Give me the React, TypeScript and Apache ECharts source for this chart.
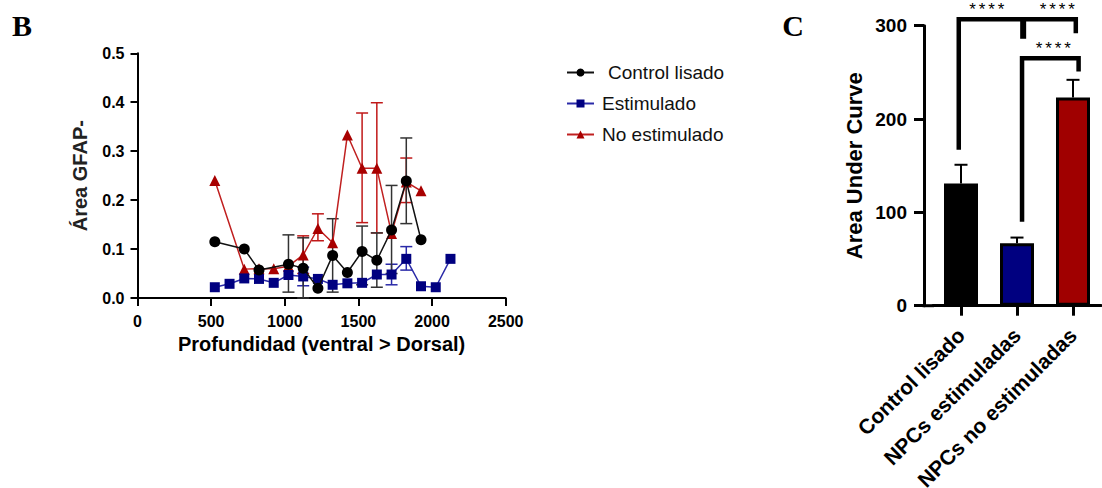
import React, { useEffect, useRef } from "react";
import * as echarts from "echarts";

// ---------- Panel B data ----------
const depthControl = [525, 725, 825, 1025, 1125, 1225, 1325, 1425, 1525, 1625, 1725, 1825, 1925];
const valControl = [0.115, 0.1, 0.057, 0.069, 0.061, 0.02, 0.087, 0.052, 0.095, 0.077, 0.139, 0.239, 0.119];

const depthEstim = [525, 625, 725, 825, 925, 1025, 1125, 1225, 1325, 1425, 1525, 1625, 1725, 1825, 1925, 2025, 2125];
const valEstim = [0.022, 0.029, 0.04, 0.039, 0.031, 0.047, 0.044, 0.039, 0.027, 0.03, 0.031, 0.048, 0.048, 0.08, 0.024, 0.022, 0.08];

const depthNoEstim = [525, 725, 825, 925, 1025, 1125, 1225, 1325, 1425, 1525, 1625, 1725, 1825, 1925];
const valNoEstim = [0.24, 0.059, 0.06, 0.06, 0.065, 0.088, 0.142, 0.113, 0.333, 0.265, 0.265, 0.132, 0.237, 0.219];

// error bars: [depth, low, high]
const errControl = [
  [1025, 0.012, 0.129],
  [1125, 0.0, 0.123],
  [1325, 0.012, 0.162],
  [1525, 0.027, 0.147],
  [1625, 0.022, 0.133],
  [1725, 0.05, 0.23],
  [1825, 0.152, 0.327],
];
const errEstim = [
  [1125, 0.025, 0.063],
  [1725, 0.027, 0.069],
  [1825, 0.057, 0.105],
];
const errNoEstim = [
  [1125, 0.05, 0.127],
  [1225, 0.117, 0.172],
  [1525, 0.154, 0.378],
  [1625, 0.133, 0.399],
  [1825, 0.195, 0.286],
];

const nameControl = "Control lisado";
const nameEstim = "Estimulado";
const nameNoEstim = "No estimulado";

// ---------- Panel C data ----------
const groups = ["Control lisado", "NPCs estimuladas", "NPCs no estimuladas"];
const auc = [131, 67, 223];
const aucErr = [20, 6, 19];
const barColors = ["#000000", "#000080", "#a00000"];

// significance brackets: [leftPos, rightPos, top, leftBottom, rightBottom] (positions in category units)
const brackets = [
  [-0.04, 2.05, 307, 167, 292],
  [1.09, 2.1, 265, 90, 251],
];
// stub: [pos, top, bottom]
const stubs = [[1.11, 307, 286]];
// stars: [pos, value (top of text), text]
const stars: [number, number, string][] = [
  [0.46, 327, "****"],
  [1.72, 327, "****"],
  [1.65, 285, "****"],
];

const FONT = "'Liberation Sans', Arial, sans-serif";

export default function App() {
  const ref = useRef<HTMLDivElement>(null);

  useEffect(() => {
    if (!ref.current) return;
    const chart = echarts.init(ref.current, undefined, { renderer: "svg" });

    const errRender = (color: string) => (params: any, api: any) => {
      const x = api.value(0);
      const lo = api.value(1);
      const hi = api.value(2);
      const pLo = api.coord([x, lo]);
      const pHi = api.coord([x, hi]);
      const w = 6;
      const st = { stroke: color, lineWidth: 1.5 };
      return {
        type: "group",
        children: [
          { type: "line", shape: { x1: pLo[0], y1: pLo[1], x2: pHi[0], y2: pHi[1] }, style: st },
          { type: "line", shape: { x1: pLo[0] - w, y1: pLo[1], x2: pLo[0] + w, y2: pLo[1] }, style: st },
          { type: "line", shape: { x1: pHi[0] - w, y1: pHi[1], x2: pHi[0] + w, y2: pHi[1] }, style: st },
        ],
      };
    };

    const catPx = (api: any, f: number) => {
      const bw = api.size([1, 0])[0];
      const base = Math.max(0, Math.min(2, Math.round(f)));
      return api.coord([base, 0])[0] + (f - base) * bw;
    };
    const yPx = (api: any, v: number) => api.coord([0, v])[1];

    const bracketRender = (params: any, api: any) => {
      const children: any[] = [];
      brackets.forEach((b) => {
        const xl = catPx(api, b[0]);
        const xr = catPx(api, b[1]);
        children.push({
          type: "polyline",
          shape: {
            points: [
              [xl, yPx(api, b[3])],
              [xl, yPx(api, b[2])],
              [xr, yPx(api, b[2])],
              [xr, yPx(api, b[4])],
            ],
          },
          style: { stroke: "#000", lineWidth: 4.5, fill: null, lineJoin: "miter" },
        });
      });
      stubs.forEach((s) => {
        const x = catPx(api, s[0]);
        children.push({
          type: "line",
          shape: { x1: x, y1: yPx(api, s[1]), x2: x, y2: yPx(api, s[2]) },
          style: { stroke: "#000", lineWidth: 6 },
        });
      });
      stars.forEach((s) => {
        const cx = catPx(api, s[0]);
        const ty = yPx(api, s[1]);
        const chars = s[2].split("");
        const pitch = 9.5;
        chars.forEach((ch, k) => {
          children.push({
            type: "text",
            x: cx + (k - (chars.length - 1) / 2) * pitch,
            y: ty,
            style: {
              text: ch,
              fontSize: 17,
              fontFamily: FONT,
              fill: "#000",
              align: "center",
              verticalAlign: "top",
            },
          });
        });
      });
      return { type: "group", children };
    };

    const barErrRender = (params: any, api: any) => {
      const x = api.value(0);
      const m = api.value(1);
      const t = api.value(2);
      const p1 = api.coord([x, m]);
      const p2 = api.coord([x, t]);
      const w = 6.5;
      const st = { stroke: "#000", lineWidth: 2 };
      return {
        type: "group",
        children: [
          { type: "line", shape: { x1: p1[0], y1: p1[1], x2: p2[0], y2: p2[1] }, style: st },
          { type: "line", shape: { x1: p2[0] - w, y1: p2[1], x2: p2[0] + w, y2: p2[1] }, style: st },
        ],
      };
    };

    chart.setOption({
      animation: false,
      backgroundColor: "#ffffff",
      textStyle: { fontFamily: FONT },
      grid: [
        { left: 137.5, top: 53.3, width: 368.2, height: 244.7, containLabel: false, outerBoundsMode: "none" },
        { left: 933, top: 25.7, width: 168, height: 280, containLabel: false, outerBoundsMode: "none" },
      ],
      legend: {
        orient: "vertical",
        left: 561,
        top: 58,
        itemWidth: 27,
        itemHeight: 10,
        itemGap: 12,
        textStyle: { fontSize: 19, fontFamily: FONT, color: "#111", lineHeight: 19, padding: [0, 0, 0, 3] },
        data: [
          { name: nameControl, textStyle: { padding: [0, 0, 0, 9] } },
          { name: nameEstim },
          { name: nameNoEstim },
        ],
      },
      xAxis: [
        {
          type: "value",
          gridIndex: 0,
          min: 0,
          max: 2500,
          interval: 500,
          splitLine: { show: false },
          axisLine: { show: true, lineStyle: { color: "#000", width: 2 } },
          axisTick: { show: true, length: 8, lineStyle: { color: "#000", width: 2 } },
          axisLabel: {
            fontSize: 16,
            fontWeight: "bold",
            color: "#000",
            margin: 15,
            fontFamily: FONT,
            formatter: (v: number) => String(v),
          },
          name: "Profundidad (ventral > Dorsal)",
          nameLocation: "middle",
          nameGap: 35,
          nameTextStyle: { fontSize: 20, fontWeight: "bold", color: "#000", fontFamily: FONT },
        },
        {
          type: "category",
          gridIndex: 1,
          data: groups,
          axisLine: { show: true, lineStyle: { color: "#000", width: 3 } },
          axisTick: { show: true, alignWithLabel: true, length: 10, lineStyle: { color: "#000", width: 3 } },
          axisLabel: {
            interval: 0,
            rotate: 45,
            fontSize: 21,
            fontWeight: "bold",
            color: "#000",
            margin: 26,
            fontFamily: FONT,
          },
        },
      ],
      yAxis: [
        {
          type: "value",
          gridIndex: 0,
          min: 0,
          max: 0.5,
          interval: 0.1,
          splitLine: { show: false },
          axisLine: { show: true, lineStyle: { color: "#000", width: 2 } },
          axisTick: { show: true, length: 7, lineStyle: { color: "#000", width: 2 } },
          axisLabel: {
            fontSize: 16,
            fontWeight: "bold",
            color: "#000",
            margin: 13,
            fontFamily: FONT,
            formatter: (v: number) => v.toFixed(1),
          },
          name: "Área GFAP-",
          nameLocation: "middle",
          nameGap: 48,
          nameTextStyle: { fontSize: 20, fontWeight: "bold", color: "#222", fontFamily: FONT },
        },
        {
          type: "value",
          gridIndex: 1,
          min: 0,
          max: 300,
          interval: 100,
          offset: 9,
          splitLine: { show: false },
          axisLine: { show: true, lineStyle: { color: "#000", width: 3 } },
          axisTick: { show: true, length: 10, lineStyle: { color: "#000", width: 3 } },
          axisLabel: { fontSize: 19, fontWeight: "bold", color: "#000", margin: 17, fontFamily: FONT },
          name: "Area Under Curve",
          nameLocation: "middle",
          nameGap: 59,
          nameTextStyle: { fontSize: 22, fontWeight: "bold", color: "#000", fontFamily: FONT },
        },
      ],
      series: [
        {
          type: "custom",
          xAxisIndex: 0,
          yAxisIndex: 0,
          data: errNoEstim,
          encode: { x: 0, y: [1, 2] },
          renderItem: errRender("#c01818"),
          z: 1,
          silent: true,
        },
        {
          type: "custom",
          xAxisIndex: 0,
          yAxisIndex: 0,
          data: errEstim,
          encode: { x: 0, y: [1, 2] },
          renderItem: errRender("#2a2aa8"),
          z: 1,
          silent: true,
        },
        {
          type: "custom",
          xAxisIndex: 0,
          yAxisIndex: 0,
          data: errControl,
          encode: { x: 0, y: [1, 2] },
          renderItem: errRender("#333333"),
          z: 1,
          silent: true,
        },
        {
          name: nameNoEstim,
          type: "line",
          xAxisIndex: 0,
          yAxisIndex: 0,
          data: depthNoEstim.map((d, i) => [d, valNoEstim[i]]),
          symbol: "triangle",
          symbolSize: 11,
          itemStyle: { color: "#a80000" },
          lineStyle: { color: "#c02020", width: 1.5 },
          z: 2,
        },
        {
          name: nameEstim,
          type: "line",
          xAxisIndex: 0,
          yAxisIndex: 0,
          data: depthEstim.map((d, i) => [d, valEstim[i]]),
          symbol: "rect",
          symbolSize: 10,
          itemStyle: { color: "#000080" },
          lineStyle: { color: "#2a2aa8", width: 1.5 },
          z: 3,
        },
        {
          name: nameControl,
          type: "line",
          xAxisIndex: 0,
          yAxisIndex: 0,
          data: depthControl.map((d, i) => [d, valControl[i]]),
          symbol: "circle",
          symbolSize: 11,
          itemStyle: { color: "#000000" },
          lineStyle: { color: "#111111", width: 1.5 },
          z: 4,
        },
        {
          type: "bar",
          xAxisIndex: 1,
          yAxisIndex: 1,
          barWidth: 34,
          data: auc.map((v, i) => ({
            value: v,
            itemStyle: { color: barColors[i], borderColor: "#000", borderWidth: 3 },
          })),
          z: 2,
        },
        {
          type: "custom",
          xAxisIndex: 1,
          yAxisIndex: 1,
          data: groups.map((g, i) => [i, auc[i], auc[i] + aucErr[i]]),
          encode: { x: 0, y: [1, 2] },
          renderItem: barErrRender,
          z: 3,
          silent: true,
        },
        {
          type: "custom",
          xAxisIndex: 1,
          yAxisIndex: 1,
          data: [[0, 0]],
          renderItem: bracketRender,
          clip: false,
          z: 4,
          silent: true,
        },
      ],
      graphic: [
        {
          type: "text",
          x: 22,
          y: 25,
          style: {
            text: "B",
            fontSize: 30,
            fontWeight: "bold",
            fontFamily: "'Liberation Serif', 'Times New Roman', serif",
            fill: "#000",
            align: "center",
            verticalAlign: "middle",
          },
        },
        {
          type: "text",
          x: 793,
          y: 25,
          style: {
            text: "C",
            fontSize: 30,
            fontWeight: "bold",
            fontFamily: "'Liberation Serif', 'Times New Roman', serif",
            fill: "#000",
            align: "center",
            verticalAlign: "middle",
          },
        },
        {
          type: "line",
          shape: { x1: 922.5, y1: 305.7, x2: 934, y2: 305.7 },
          style: { stroke: "#000", lineWidth: 3 },
        },
      ],
    });

    return () => chart.dispose();
  }, []);

  return (
    <div
      ref={ref}
      style={{ position: "fixed", left: 0, top: 0, width: 1102, height: 488, background: "#fff" }}
    />
  );
}
